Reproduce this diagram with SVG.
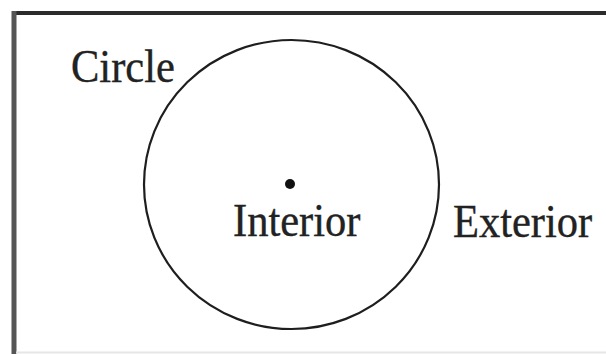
<svg xmlns="http://www.w3.org/2000/svg" width="606" height="354" viewBox="0 0 606 354">
<style>
.lbl{font-family:"Liberation Serif","Times New Roman",serif;font-size:42.5px;fill:#222;stroke:#222;stroke-width:0.35}
.frame{stroke-linecap:butt;fill:none}
</style>
<rect width="606" height="354" fill="#fff"/>
<g id="frame">
<line class="frame" x1="12" y1="13" x2="606" y2="13" stroke="#2b2b2b" stroke-width="4"/>
<line class="frame" x1="14" y1="11" x2="14" y2="354" stroke="#555" stroke-width="5"/>
<line class="frame" x1="16" y1="352.5" x2="606" y2="352.5" stroke="#e6e6e6" stroke-width="2"/>
</g>
<g id="circle">
<ellipse cx="291.5" cy="184.5" rx="147.5" ry="144.5" fill="none" stroke="#1e1e1e" stroke-width="2.2"/>
</g>
<g id="center">
<circle cx="290" cy="184" r="5" fill="#111"/>
</g>
<g id="labels">
<text class="lbl" transform="translate(71,82) scale(1,1.07)">Circle</text>
<text class="lbl" transform="translate(233,236) scale(1,1.07)">Interior</text>
<text class="lbl" transform="translate(453,237) scale(1,1.07)">Exterior</text>
</g>
</svg>
